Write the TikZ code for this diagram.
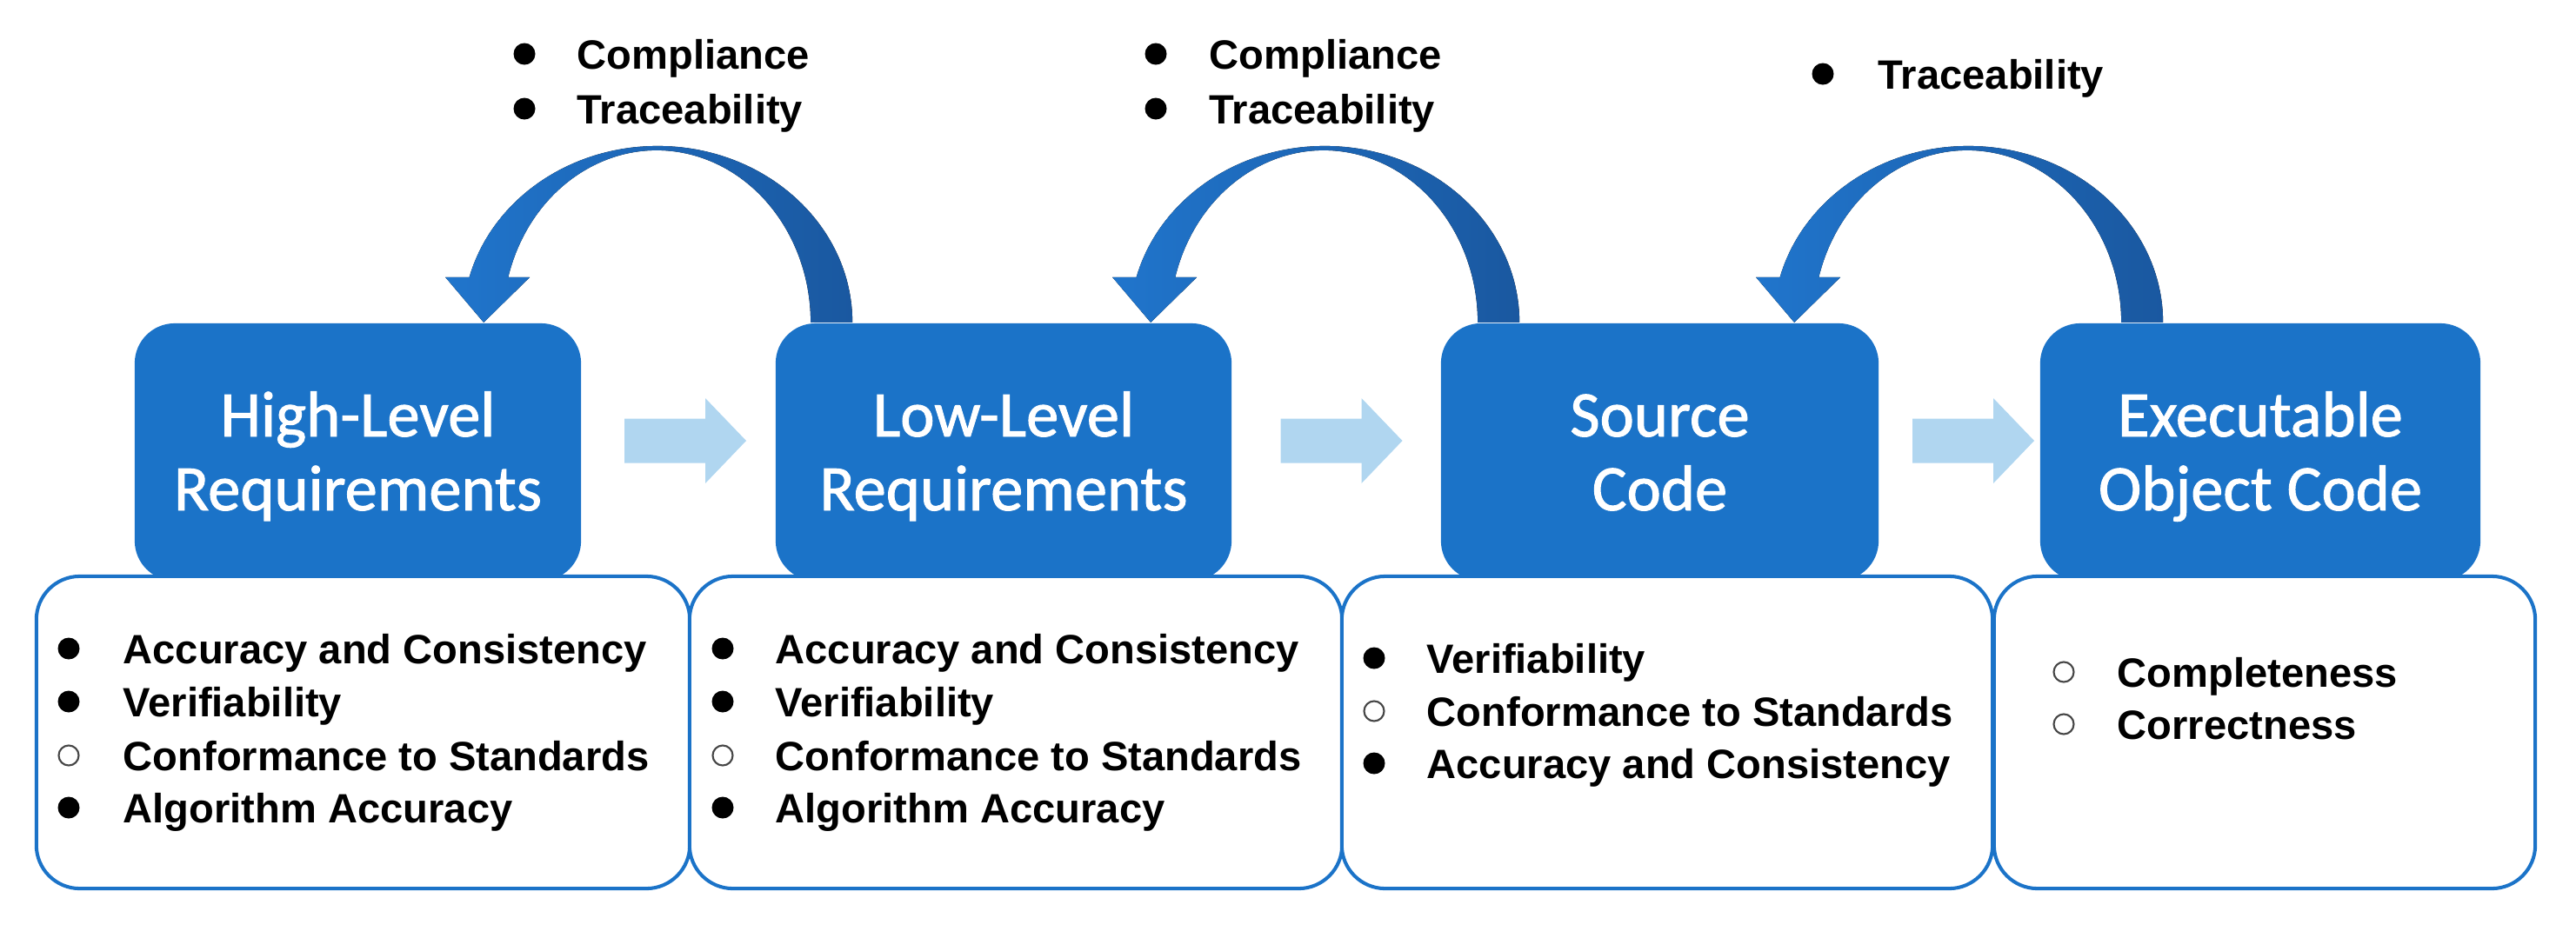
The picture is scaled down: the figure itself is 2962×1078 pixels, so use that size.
\documentclass[tikz,border=0pt]{standalone}
\usepackage{fontspec}
\setmainfont{Liberation Sans}
\newfontfamily\titlefont[FakeBold=1.3]{Carlito}
\usetikzlibrary{calc}
\definecolor{boxblue}{RGB}{27,115,200}
\definecolor{arcL}{RGB}{32,117,204}
\definecolor{arcM}{RGB}{30,104,186}
\definecolor{arcR}{RGB}{26,88,160}
\definecolor{flow}{RGB}{176,214,240}
\definecolor{ring}{RGB}{70,70,70}
\newcommand{\flowarrowat}[1]{%
  \fill[flowarrow] ([shift={(-70,-25.5)}]#1) -- ([shift={(23,-25.5)}]#1) -- ([shift={(23,-49)}]#1)
    -- ([shift={(70,0)}]#1) -- ([shift={(23,49)}]#1) -- ([shift={(23,25.5)}]#1)
    -- ([shift={(-70,25.5)}]#1) -- cycle;}
\newcommand{\loopback}[1]{%
  \fill[looparrow] ([shift={(424,0)}]#1) arc[start angle=0,end angle=165.16,x radius=224,y radius=203]
    -- ([shift={(-44,52)}]#1) -- (#1) -- ([shift={(53,52)}]#1) -- ([shift={(28.2,52)}]#1)
    arc[start angle=164.77,end angle=0,x radius=177,y radius=198] -- cycle;}
\begin{document}
\begin{tikzpicture}[x=0.01cm,y=0.01cm,
  titlebox/.style={fill=boxblue, rounded corners=0.46cm, inner sep=0pt, outer sep=0pt,
    minimum height=2.96cm},
  titletext/.style={anchor=base, inner sep=0pt, text=white,
    font=\titlefont\fontsize{21.2}{24}\selectfont},
  listbox/.style={draw=boxblue, line width=1.15pt, fill=white, rounded corners=0.5cm,
    inner sep=0pt, outer sep=0pt, minimum height=3.59cm},
  item/.style={anchor=base west, inner sep=0pt, font=\fontsize{13.4}{16}\selectfont\bfseries},
  fullbullet/.style={fill=black},
  openbullet/.style={draw=ring, line width=0.6pt, fill=white},
  looparrow/.style={left color=arcL, middle color=arcM, right color=arcR},
  flowarrow/.style={fill=flow}]
\useasboundingbox (0,0) rectangle (2962,-1078);

% title boxes
\node[titlebox, minimum width=5.13cm] (hl) at (411.5,-520) {};
\node[titlebox, minimum width=5.24cm] (ll) at (1154,-520) {};
\node[titlebox, minimum width=5.03cm] (sc) at (1908.5,-520) {};
\node[titlebox, minimum width=5.06cm] (eo) at (2599,-520) {};
\node[titletext] (hl1) at ([shift={(0,18)}]hl.center) {High-Level};
\node[titletext] (hl2) at ([shift={(0,-67)}]hl.center) {Requirements};
\node[titletext] (ll1) at ([shift={(0,18)}]ll.center) {Low-Level};
\node[titletext] (ll2) at ([shift={(0,-67)}]ll.center) {Requirements};
\node[titletext] (sc1) at ([shift={(0,18)}]sc.center) {Source};
\node[titletext] (sc2) at ([shift={(0,-67)}]sc.center) {Code};
\node[titletext] (eo1) at ([shift={(0,18)}]eo.center) {Executable};
\node[titletext] (eo2) at ([shift={(0,-67)}]eo.center) {Object Code};

% list boxes
\node[listbox, minimum width=7.51cm] (hlw) at (417.5,-842.5) {};
\node[listbox, minimum width=7.50cm] (llw) at (1168,-842.5) {};
\node[listbox, minimum width=7.48cm] (scw) at (1917,-842.5) {};
\node[listbox, minimum width=6.22cm] (eow) at (2604,-842.5) {};

% flow arrows
\coordinate (f1) at ($(hl.east)!0.5!(ll.west)+(8,13)$);
\coordinate (f2) at ($(ll.east)!0.5!(sc.west)+(6,13)$);
\coordinate (f3) at ($(sc.east)!0.5!(eo.west)+(16,13)$);
\flowarrowat{f1}
\flowarrowat{f2}
\flowarrowat{f3}

% loop-back arrows
\coordinate (h1) at ([shift={(-112,1)}]hl.north east);
\coordinate (h2) at ([shift={(-93,1)}]ll.north east);
\coordinate (h3) at ([shift={(-97,1)}]sc.north east);
\loopback{h1}
\loopback{h2}
\loopback{h3}

% labels above loops
\fill[fullbullet] (603,-62) circle (12.5);
\node[item] (a1) at (663,-79) {Compliance};
\fill[fullbullet] (603,-125) circle (12.5);
\node[item] (a2) at (663,-142) {Traceability};
\fill[fullbullet] (1329,-62) circle (12.5);
\node[item] (b1) at (1390,-79) {Compliance};
\fill[fullbullet] (1329,-125) circle (12.5);
\node[item] (b2) at (1390,-142) {Traceability};
\fill[fullbullet] (2096,-85) circle (12.5);
\node[item] (c1) at (2159,-102) {Traceability};

% list box 1
\fill[fullbullet] (79,-746) circle (12.5);
\node[item] (p1) at (141,-763) {Accuracy and Consistency};
\fill[fullbullet] (79,-807) circle (12.5);
\node[item] (p2) at (141,-824) {Verifiability};
\draw[openbullet] (79,-869) circle (11.5);
\node[item] (p3) at (141,-886) {Conformance to Standards};
\fill[fullbullet] (79,-929) circle (12.5);
\node[item] (p4) at (141,-946) {Algorithm Accuracy};

% list box 2
\fill[fullbullet] (831,-746) circle (12.5);
\node[item] (q1) at (891,-763) {Accuracy and Consistency};
\fill[fullbullet] (831,-807) circle (12.5);
\node[item] (q2) at (891,-824) {Verifiability};
\draw[openbullet] (831,-869) circle (11.5);
\node[item] (q3) at (891,-886) {Conformance to Standards};
\fill[fullbullet] (831,-929) circle (12.5);
\node[item] (q4) at (891,-946) {Algorithm Accuracy};

% list box 3
\fill[fullbullet] (1580,-757) circle (12.5);
\node[item] (r1) at (1640,-774) {Verifiability};
\draw[openbullet] (1580,-818) circle (11.5);
\node[item] (r2) at (1640,-835) {Conformance to Standards};
\fill[fullbullet] (1580,-878) circle (12.5);
\node[item] (r3) at (1640,-895) {Accuracy and Consistency};

% list box 4
\draw[openbullet] (2373,-773) circle (11.5);
\node[item] (s1) at (2434,-790) {Completeness};
\draw[openbullet] (2373,-833) circle (11.5);
\node[item] (s2) at (2434,-850) {Correctness};
\end{tikzpicture}
\end{document}
